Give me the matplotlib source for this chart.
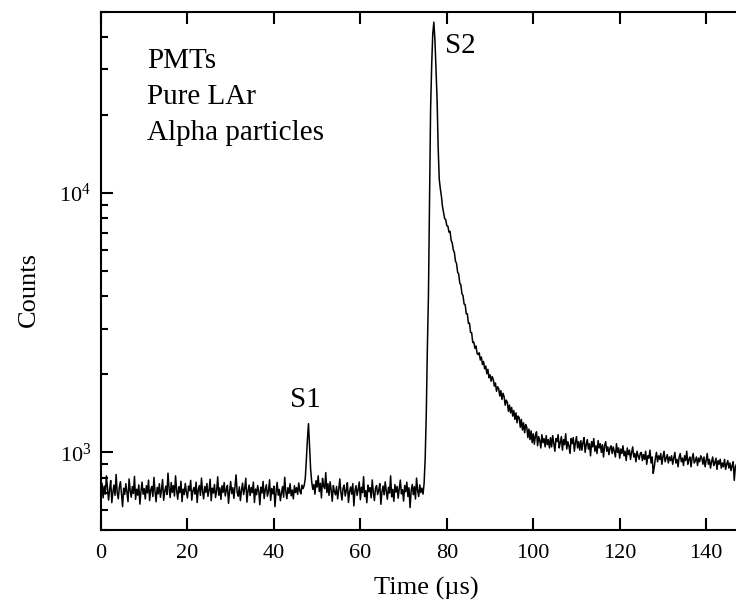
import numpy as np
import matplotlib
matplotlib.use("Agg")
import matplotlib.pyplot as plt
from matplotlib.ticker import FixedLocator, LogLocator, NullFormatter, LogFormatterSciNotation

plt.rcParams['font.family'] = ['Liberation Serif', 'DejaVu Serif']
plt.rcParams['mathtext.fontset'] = 'custom'
plt.rcParams['mathtext.rm'] = 'Liberation Serif'
plt.rcParams['mathtext.it'] = 'Liberation Serif:italic'
plt.rcParams['mathtext.bf'] = 'Liberation Serif:bold'

# ---------------- data (counts every 0.25 us) ----------------
time_step_us = 0.25

baseline_pre = [
    705, 760, 668, 742, 690, 812, 731, 655, 720, 779, 640, 702, 748, 683, 822, 700, 662, 735, 771, 694,
    618, 728, 689, 757, 703, 646, 790, 714, 672, 738, 695, 808, 659, 721, 684, 749, 632, 706, 768, 690,
    725, 661, 744, 698, 782, 652, 717, 739, 676, 801, 708, 645, 733, 692, 757, 671, 718, 786, 654, 707,
    741, 688, 832, 726, 670, 765, 701, 745, 679, 812, 714, 660, 737, 699, 774, 646, 722, 688, 759, 703,
    667, 741, 712, 780, 654, 709, 733, 690, 768, 641, 718, 745, 683, 796, 706, 662, 739, 701, 759, 677,
    714, 788, 651, 728, 697, 752, 670, 711, 805, 684, 730, 659, 744, 701, 765, 679, 719, 746, 636, 708,
    772, 694, 731, 665, 742, 819, 700, 678, 736, 652, 714, 761, 688, 726, 795, 643, 709, 748, 682, 733,
    699, 768, 641, 722, 687, 745, 710, 628, 735, 697, 773, 664, 719, 750, 678, 709, 784, 653, 726, 692,
    741, 618, 705, 766, 684, 720, 651, 697, 739, 672, 802, 706, 663, 731, 695, 757, 680, 716, 662, 744,
    700, 731, 689, 762, 710, 692, 748, 725,
]

s1_pulse = [745, 790, 930, 1120, 1290, 1060, 860, 770, 720]

baseline_post = [
    752, 690, 778, 735, 812, 706, 760, 668, 794, 741, 725, 836, 700, 757, 683, 770, 716, 648, 745, 707,
    686, 739, 662, 718, 790, 701, 655, 727, 748, 679, 713, 764, 641, 705, 736, 690, 758, 622, 711, 744,
    683, 720, 769, 657, 734, 699, 806, 675, 712, 640, 748, 706, 731, 668, 783, 701, 652, 727, 745, 688,
    715, 758, 631, 704, 742, 686, 770, 709, 660, 733, 697, 812, 674, 720, 648, 751, 703, 739, 666, 725,
    782, 692, 718, 649, 744, 705, 768, 676, 731, 613, 709, 752, 687, 738, 661, 796, 714, 676, 749, 700,
    728, 690,
]

s2_rise = [760, 950, 1400, 2500, 4000, 9500, 21000, 31000, 41000, 45500,
           39000, 30000, 23000, 15000, 11300]

s2_decay = [
    10380, 9720, 8870, 8420, 7960, 7890, 7480, 7440, 7060, 7110, 6570, 6420, 6030,
    5900, 5460, 5350, 4950, 4870, 4490, 4420, 4090, 4020,
    3730, 3710, 3420, 3420, 3140, 3150, 2900, 2890, 2650,
    2660, 2520, 2570, 2410, 2380, 2420, 2270, 2330, 2180, 2240, 2100, 2150, 2010, 2090, 1940, 1990,
    1880, 1960, 1910, 1800, 1850, 1720, 1790, 1760, 1650, 1730, 1600, 1690, 1640, 1520, 1590, 1560, 1440, 1520, 1420,
    1490, 1380, 1450, 1340, 1420, 1300, 1380, 1360, 1250, 1340, 1220, 1300, 1190, 1280, 1250, 1140, 1230, 1120,
    1210, 1090, 1180, 1075, 1160, 1200, 1060, 1150, 1110, 1040, 1170, 1090, 1130, 1050, 1160, 1070, 1120, 1040,
    1140, 1050, 1160, 1080, 1010, 1130, 1100, 1170, 1040, 1090, 1150, 1020, 1120, 1070, 1180, 1030, 1100, 1060,
    990, 1130, 1080, 1140, 1010, 1090, 1150, 1040, 1100, 1020,
    1110, 1020, 1090, 1140, 1000, 1070, 1120, 1030, 1080, 970, 1100, 1050, 1130, 1010, 1060, 990, 1110, 1040,
    1080, 1000, 1070, 960, 1060, 1100, 1010, 1050, 980, 1040,
    1060, 990, 1050, 1010, 960, 1080, 1000, 1040, 950, 1030, 990, 1060, 970, 1010, 930, 1040, 980, 1020,
    940, 1000, 1050, 960, 990, 920, 1010, 970, 940, 990,
    1000, 930, 980, 940, 1010, 900, 970, 950, 1020, 910, 960, 830, 880, 950, 1000, 920, 970, 940,
    990, 900, 960, 1010, 920, 950, 980, 910, 960, 930,
    970, 900, 950, 1000, 910, 940, 880, 960, 990, 920, 950, 890, 970, 930, 1010, 900, 940, 960,
    880, 950, 990, 910, 930, 960, 890, 950, 920, 970,
    950, 900, 960, 880, 930, 990, 900, 940, 870, 920, 960, 890, 910, 950, 860, 930, 900, 940,
    870, 910, 880, 940, 860, 900, 930, 870, 910, 850, 890, 920, 780, 880, 900, 850, 870,
]

x_ticks = [0, 20, 40, 60, 80, 100, 120, 140]
y_major_ticks = [1e3, 1e4]
x_limits = (0, 146.9)
y_limits = (500, 50000)
info_lines = ["PMTs", "Pure LAr", "Alpha particles"]
peak_labels = [("S1", 47.3, 1499), ("S2", 83.1, 34750)]

counts = np.array(baseline_pre + s1_pulse + baseline_post + s2_rise + s2_decay, dtype=float)
time_us = np.arange(len(counts)) * time_step_us

# ---------------- figure ----------------
fig = plt.figure(figsize=(7.36, 6.06), dpi=100)
ax = fig.add_axes([0.1372, 0.1246, 0.8628, 0.8564])

ax.plot(time_us, counts, color='black', linewidth=1.1)

ax.set_yscale('log')
ax.set_xlim(*x_limits)
ax.set_ylim(*y_limits)

ax.xaxis.set_major_locator(FixedLocator(x_ticks))
ax.yaxis.set_major_locator(FixedLocator(y_major_ticks))
ax.yaxis.set_major_formatter(LogFormatterSciNotation())
ax.yaxis.set_minor_locator(LogLocator(base=10, subs=np.arange(2, 10)))
ax.yaxis.set_minor_formatter(NullFormatter())

for side in ['left', 'top', 'bottom']:
    ax.spines[side].set_linewidth(1.5)
ax.spines['right'].set_visible(False)

ax.tick_params(axis='both', which='major', direction='in', length=8.5, width=1.5,
               labelsize=16, top=True, right=False)
ax.tick_params(axis='x', which='major', pad=10)
ax.tick_params(axis='y', which='major', pad=7)
ax.tick_params(axis='y', which='minor', direction='in', length=5, width=1.5, right=False)

ax.set_xlabel('Time (\u00b5s)', fontsize=19)
ax.set_ylabel('Counts', fontsize=19)
ax.xaxis.set_label_coords(0.512, -0.09)
ax.yaxis.set_label_coords(-0.096, 0.465)

for i, line in enumerate(info_lines):
    ax.text(0.072, 0.8906 - i * 0.0691, line, transform=ax.transAxes,
            fontsize=21, ha='left', va='baseline')

for lab, xv, yv in peak_labels:
    ax.text(xv, yv, lab, fontsize=21, ha='center', va='baseline')

fig.savefig('out.png', dpi=100)
